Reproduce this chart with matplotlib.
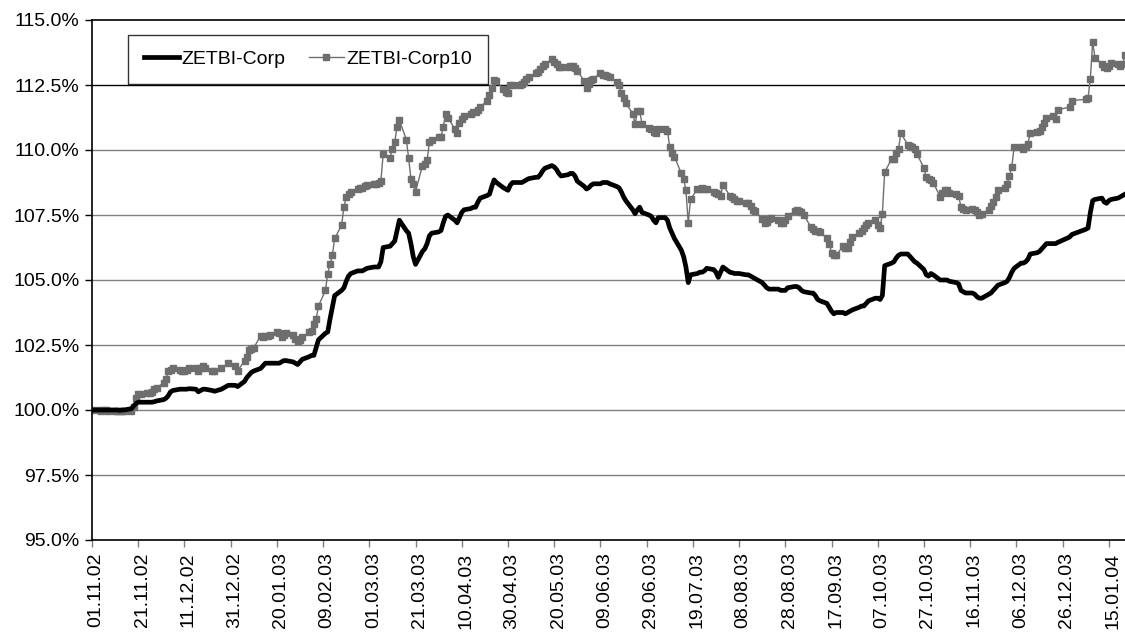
import matplotlib
matplotlib.use("Agg")
import matplotlib.pyplot as plt
from matplotlib.transforms import ScaledTranslation
import pandas as pd
import numpy as np

# ---------------- data ----------------
start_date = "2002-11-01"
end_date = "2004-01-22"
holidays = ["2002-12-25", "2002-12-26", "2002-12-31", "2003-01-01",
            "2003-12-25", "2003-12-26", "2003-12-31", "2004-01-01", "2004-01-02"]

series_names = ["ZETBI-Corp", "ZETBI-Corp10"]

corp = [
    100.00,
    100.00, 100.00, 100.00, 100.00, 100.00,
    100.00, 100.00, 99.98, 100.00, 100.00,
    100.05, 100.15, 100.25, 100.30, 100.30,
    100.30, 100.30, 100.30, 100.32, 100.35,
    100.40, 100.45, 100.55, 100.70, 100.75,
    100.80, 100.80, 100.80, 100.80, 100.82,
    100.80, 100.70, 100.75, 100.80, 100.80,
    100.75, 100.72, 100.80,
    100.95, 100.95, 100.90,
    101.10, 101.25, 101.35, 101.45, 101.50,
    101.60, 101.70, 101.80, 101.80, 101.80,
    101.80, 101.80, 101.85, 101.90, 101.90,
    101.85, 101.80, 101.75, 101.85, 101.95,
    102.05, 102.10, 102.10, 102.40, 102.70,
    102.95, 103.00, 103.50, 103.95, 104.40,
    104.60, 104.70, 104.95, 105.15, 105.25,
    105.35, 105.35, 105.35, 105.40, 105.45,
    105.50, 105.50, 105.50, 105.70, 106.25,
    106.30, 106.40, 106.50, 106.90, 107.30,
    106.90, 106.80, 106.40, 105.90, 105.60,
    106.10, 106.20, 106.40, 106.70, 106.80,
    106.85, 106.90, 107.20, 107.45, 107.50,
    107.30, 107.20, 107.40, 107.60, 107.70,
    107.75, 107.80, 107.80, 108.00, 108.15,
    108.25, 108.30, 108.60, 108.85, 108.75,
    108.55, 108.50, 108.45, 108.65, 108.75,
    108.75, 108.75, 108.80, 108.85, 108.90,
    108.95, 108.95, 109.05, 109.20, 109.30,
    109.40, 109.35, 109.25, 109.10, 109.00,
    109.05, 109.10, 109.10, 109.00, 108.80,
    108.60, 108.50, 108.55, 108.65, 108.70,
    108.70, 108.75, 108.75, 108.75, 108.70,
    108.60, 108.55, 108.40, 108.20, 108.05,
    107.70, 107.55, 107.70, 107.80, 107.60,
    107.50, 107.45, 107.30, 107.20, 107.40,
    107.40, 107.30, 107.00, 106.80, 106.60,
    106.15, 105.90, 105.50, 104.90, 105.20,
    105.25, 105.30, 105.30, 105.35, 105.45,
    105.40, 105.30, 105.10, 105.30, 105.50,
    105.30, 105.28, 105.25, 105.25, 105.25,
    105.20, 105.20, 105.15, 105.10, 105.05,
    104.90, 104.80, 104.70, 104.65, 104.65,
    104.65, 104.60, 104.60, 104.60, 104.70,
    104.75, 104.75, 104.70, 104.60, 104.55,
    104.50, 104.50, 104.40, 104.25, 104.20,
    104.10, 103.95, 103.80, 103.70, 103.75,
    103.75, 103.70, 103.75, 103.80, 103.85,
    103.95, 104.00, 104.00, 104.10, 104.20,
    104.30, 104.30, 104.25, 104.40, 105.55,
    105.65, 105.70, 105.85, 105.95, 106.00,
    106.00, 105.90, 105.80, 105.70, 105.65,
    105.40, 105.20, 105.15, 105.25, 105.20,
    105.00, 105.00, 105.00, 105.00, 104.95,
    104.90, 104.85, 104.60, 104.55, 104.50,
    104.50, 104.45, 104.35, 104.30, 104.30,
    104.45, 104.50, 104.60, 104.70, 104.80,
    104.90, 104.95, 105.10, 105.30, 105.45,
    105.65, 105.65, 105.70, 105.80, 106.00,
    106.05, 106.10, 106.20, 106.30, 106.40,
    106.40, 106.40, 106.45,
    106.65, 106.75,
    106.95, 107.00, 107.60, 108.05, 108.10,
    108.15, 108.00, 107.95, 108.05, 108.10,
    108.15, 108.20, 108.25, 108.30,
]

corp10 = [
    100.00,
    100.00, 99.98, 100.00, 100.00, 99.97,
    99.97, 99.98, 99.96, 99.97, 99.95,
    99.98, 100.10, 100.45, 100.60, 100.60,
    100.65, 100.65, 100.70, 100.80, 100.85,
    101.05, 101.20, 101.50, 101.55, 101.60,
    101.55, 101.50, 101.50, 101.55, 101.60,
    101.60, 101.50, 101.60, 101.70, 101.60,
    101.50, 101.50, 101.60,
    101.80, 101.70, 101.50,
    101.90, 102.05, 102.30, 102.35, 102.40,
    102.85, 102.80, 102.85, 102.85, 102.90,
    103.00, 102.95, 102.80, 102.90, 102.95,
    102.90, 102.75, 102.65, 102.70, 102.80,
    103.00, 103.05, 103.30, 103.50, 104.00,
    104.60, 105.25, 105.60, 105.95, 106.60,
    107.10, 107.80, 108.20, 108.30, 108.40,
    108.50, 108.55, 108.55, 108.60, 108.65,
    108.70, 108.70, 108.75, 108.80, 109.85,
    109.70, 110.05, 110.30, 110.90, 111.15,
    110.40, 109.70, 108.90, 108.70, 108.40,
    109.40, 109.45, 109.60, 110.30, 110.40,
    110.50, 110.50, 110.90, 111.40, 111.25,
    110.80, 110.65, 111.05, 111.20, 111.30,
    111.40, 111.45, 111.45, 111.55, 111.65,
    111.90, 112.10, 112.40, 112.70, 112.65,
    112.35, 112.25, 112.20, 112.50, 112.50,
    112.50, 112.55, 112.60, 112.75, 112.80,
    112.95, 113.00, 113.10, 113.25, 113.30,
    113.50, 113.40, 113.30, 113.20, 113.20,
    113.20, 113.25, 113.25, 113.15, 113.05,
    112.65, 112.40, 112.55, 112.70, 112.75,
    112.95, 112.90, 112.90, 112.85, 112.80,
    112.60, 112.50, 112.20, 112.00, 111.80,
    111.40, 111.00, 111.50, 111.50, 111.00,
    110.85, 110.80, 110.70, 110.65, 110.80,
    110.80, 110.75, 110.10, 109.90, 109.75,
    109.10, 108.90, 108.45, 107.20, 108.10,
    108.50, 108.50, 108.55, 108.50, 108.50,
    108.40, 108.35, 108.30, 108.25, 108.65,
    108.25, 108.20, 108.10, 108.05, 108.05,
    107.95, 107.95, 107.85, 107.70, 107.65,
    107.35, 107.20, 107.25, 107.35, 107.40,
    107.30, 107.20, 107.20, 107.30, 107.45,
    107.65, 107.70, 107.65, 107.60, 107.50,
    107.05, 106.95, 106.90, 106.90, 106.85,
    106.60, 106.40, 106.05, 105.95, 105.95,
    106.30, 106.25, 106.25, 106.45, 106.65,
    106.80, 106.90, 107.00, 107.10, 107.20,
    107.30, 107.10, 107.00, 107.55, 109.15,
    109.65, 109.65, 109.90, 110.05, 110.65,
    110.20, 110.15, 110.10, 110.05, 109.85,
    109.30, 108.95, 108.90, 108.85, 108.75,
    108.20, 108.35, 108.45, 108.45, 108.35,
    108.30, 108.25, 107.80, 107.75, 107.70,
    107.75, 107.70, 107.60, 107.50, 107.55,
    107.70, 107.85, 108.00, 108.20, 108.45,
    108.55, 108.70, 109.00, 109.35, 110.10,
    110.10, 110.05, 110.10, 110.25, 110.65,
    110.70, 110.75, 110.90, 111.05, 111.25,
    111.30, 111.20, 111.55,
    111.65, 111.90,
    111.95, 112.00, 112.75, 114.15, 113.55,
    113.30, 113.20, 113.15, 113.25, 113.35,
    113.30, 113.25, 113.30, 113.65,
]

tick_labels = ["01.11.02", "21.11.02", "11.12.02", "31.12.02", "20.01.03", "09.02.03",
               "01.03.03", "21.03.03", "10.04.03", "30.04.03", "20.05.03", "09.06.03",
               "29.06.03", "19.07.03", "08.08.03", "28.08.03", "17.09.03", "07.10.03",
               "27.10.03", "16.11.03", "06.12.03", "26.12.03", "15.01.04"]
y_ticks = [95.0, 97.5, 100.0, 102.5, 105.0, 107.5, 110.0, 112.5, 115.0]

# ---------------- build ----------------
t0 = pd.Timestamp(start_date)
dates = pd.bdate_range(start_date, end_date)
dates = dates[~dates.isin(pd.to_datetime(holidays))]
days = np.asarray((dates - t0).days, dtype=float)
n1 = min(len(days), len(corp))
n2 = min(len(days), len(corp10))

tick_pos = [(pd.to_datetime(s, format="%d.%m.%y") - t0).days for s in tick_labels]

plt.rcParams['font.family'] = ['Liberation Sans', 'DejaVu Sans']

fig = plt.figure(figsize=(11.25, 6.34), dpi=100)
ax = fig.add_axes([92 / 1125, 94 / 634, (1125 - 92) / 1125, 520 / 634])

ax.set_ylim(95, 115)
ax.set_xlim(0, (1125 - 92) / 2.311)

for v in y_ticks[1:-1]:
    ax.axhline(v, color='#000000' if v == 112.5 else '#808080', lw=1.0, zorder=1)

ax.plot(days[:n1], corp[:n1], color='#000000', lw=3.4, solid_joinstyle='round',
        label=series_names[0], zorder=3)
ax.plot(days[:n2], corp10[:n2], color='#6e6e6e', lw=1.0, marker='s', ms=5.0,
        mec='#6e6e6e', mfc='#6e6e6e', label=series_names[1], zorder=2)

ax.set_yticks(y_ticks)
ax.set_yticklabels([f"{v:.1f}%" for v in y_ticks], fontsize=14)
ax.set_xticks(tick_pos)
ax.set_xticklabels(tick_labels, rotation=90, fontsize=14)
ax.tick_params(axis='both', direction='out', length=5, width=1, color='#000000', pad=4)
ax.tick_params(axis='x', color='#808080')
shift = ScaledTranslation(4 / 100, 0, fig.dpi_scale_trans)
for lab in ax.get_xticklabels():
    lab.set_transform(lab.get_transform() + shift)

for s in ['left', 'bottom', 'top']:
    ax.spines[s].set_color('#000000')
    ax.spines[s].set_linewidth(1.2)
ax.spines['right'].set_visible(False)

leg = ax.legend(loc='upper left', bbox_to_anchor=((128 - 92) / 1033, (540 - 35) / 520),
                ncol=2, fontsize=14, frameon=True, fancybox=False, shadow=False,
                handlelength=1.8, handletextpad=0.15, columnspacing=1.2,
                borderpad=0.8, borderaxespad=0)
leg.get_frame().set_edgecolor('#000000')
leg.get_frame().set_linewidth(1.0)

fig.savefig("out.png", dpi=100)
